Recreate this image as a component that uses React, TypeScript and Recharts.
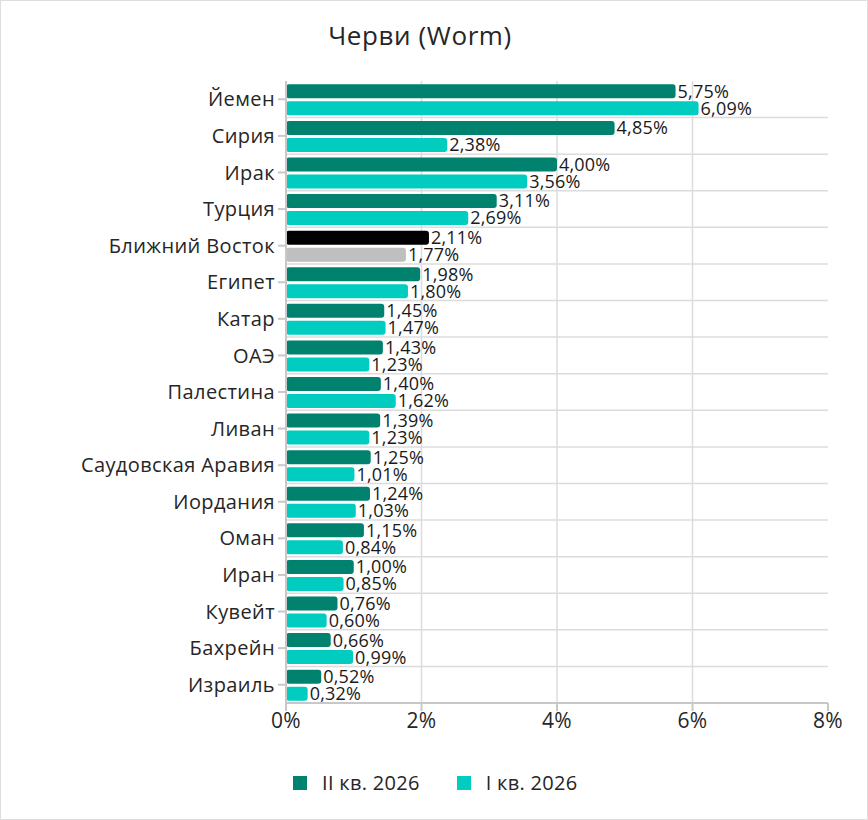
import React from 'react';
import {
  Bar,
  BarChart,
  CartesianGrid,
  Cell,
  LabelList,
  XAxis,
  YAxis,
} from 'recharts';

const categories = [
  'Йемен',
  'Сирия',
  'Ирак',
  'Турция',
  'Ближний Восток',
  'Египет',
  'Катар',
  'ОАЭ',
  'Палестина',
  'Ливан',
  'Саудовская Аравия',
  'Иордания',
  'Оман',
  'Иран',
  'Кувейт',
  'Бахрейн',
  'Израиль',
];

const q2Values = [5.75, 4.85, 4.0, 3.11, 2.11, 1.98, 1.45, 1.43, 1.4, 1.39, 1.25, 1.24, 1.15, 1.0, 0.76, 0.66, 0.52];
const q1Values = [6.09, 2.38, 3.56, 2.69, 1.77, 1.8, 1.47, 1.23, 1.62, 1.23, 1.01, 1.03, 0.84, 0.85, 0.6, 0.99, 0.32];

const seriesNames = ['II кв. 2026', 'I кв. 2026'];
const seriesColors = ['#00826F', '#00CCBF'];
const highlightName = 'Ближний Восток';
const highlightColors = ['#000000', '#BFBFBF'];

const xTicks = [0, 2, 4, 6, 8];

const FONT = '"Open Sans", sans-serif';

const rows = categories.map((name, i) => ({ name, q2: q2Values[i], q1: q1Values[i] }));

const fmt = (v: number) => `${v.toFixed(2).replace('.', ',')}%`;

export default function App() {
  return (
    <div
      style={{
        position: 'fixed',
        left: 0,
        top: 0,
        width: 868,
        height: 820,
        boxSizing: 'border-box',
        border: '1px solid #dedede',
        background: '#fff',
        fontFamily: FONT,
      }}
    >
      <div
        style={{
          position: 'absolute',
          top: 16,
          left: 0,
          width: 838,
          textAlign: 'center',
          fontSize: 26,
          letterSpacing: 0.6,
          color: '#262626',
        }}
      >
        Черви (Worm)
      </div>
      <div style={{ position: 'absolute', left: -1, top: -1 }}>
        <BarChart
          width={868}
          height={820}
          data={rows}
          layout="vertical"
          margin={{ top: 81, right: 40, bottom: 87, left: 0 }}
          barCategoryGap="9%"
          barGap={3}
        >
          <CartesianGrid
            stroke="#dcdcdc"
            strokeWidth={1.5}
            horizontalCoordinatesGenerator={({ offset }: any) =>
              categories.slice(1).map((_, i) => offset.top + ((i + 1) * offset.height) / categories.length)
            }
            verticalCoordinatesGenerator={({ offset }: any) =>
              xTicks.slice(1, -1).map((t) => offset.left + (offset.width * t) / xTicks[xTicks.length - 1])
            }
          />
          <XAxis
            type="number"
            domain={[0, 8]}
            ticks={xTicks}
            tickFormatter={(v) => `${v}%`}
            height={30}
            stroke="#c8c8c8"
            strokeWidth={2}
            tickSize={8}
            tick={{ fill: '#262626', fontSize: 21, fontFamily: FONT, letterSpacing: 0.3 }}
            tickMargin={2}
          />
          <YAxis
            type="category"
            dataKey="name"
            width={286}
            interval={0}
            stroke="#c8c8c8"
            strokeWidth={2}
            tickSize={8}
            tickMargin={3}
            tick={{ fill: '#262626', fontSize: 20, fontFamily: FONT, letterSpacing: 0.4 }}
          />
          <Bar dataKey="q2" name={seriesNames[0]} fill={seriesColors[0]} radius={3} isAnimationActive={false}>
            {rows.map((r) => (
              <Cell key={r.name} fill={r.name === highlightName ? highlightColors[0] : seriesColors[0]} />
            ))}
            <LabelList
              dataKey="q2"
              position="right"
              offset={2}
              formatter={(v: any) => fmt(Number(v))}
              style={{ fill: '#1a1a1a', fontSize: 18, fontFamily: FONT, letterSpacing: 0.2 }}
            />
          </Bar>
          <Bar dataKey="q1" name={seriesNames[1]} fill={seriesColors[1]} radius={3} isAnimationActive={false}>
            {rows.map((r) => (
              <Cell key={r.name} fill={r.name === highlightName ? highlightColors[1] : seriesColors[1]} />
            ))}
            <LabelList
              dataKey="q1"
              position="right"
              offset={2}
              formatter={(v: any) => fmt(Number(v))}
              style={{ fill: '#1a1a1a', fontSize: 18, fontFamily: FONT, letterSpacing: 0.2 }}
            />
          </Bar>
        </BarChart>
      </div>
      <div
        style={{
          position: 'absolute',
          top: 768,
          left: 292,
          display: 'flex',
          alignItems: 'center',
          fontSize: 20,
          letterSpacing: 0.3,
          color: '#262626',
        }}
      >
        {seriesNames.map((n, i) => (
          <div key={n} style={{ display: 'flex', alignItems: 'center', marginRight: 37 }}>
            <span
              style={{ width: 14, height: 14, background: seriesColors[i], display: 'inline-block', marginRight: 15 }}
            />
            <span>{n}</span>
          </div>
        ))}
      </div>
    </div>
  );
}
